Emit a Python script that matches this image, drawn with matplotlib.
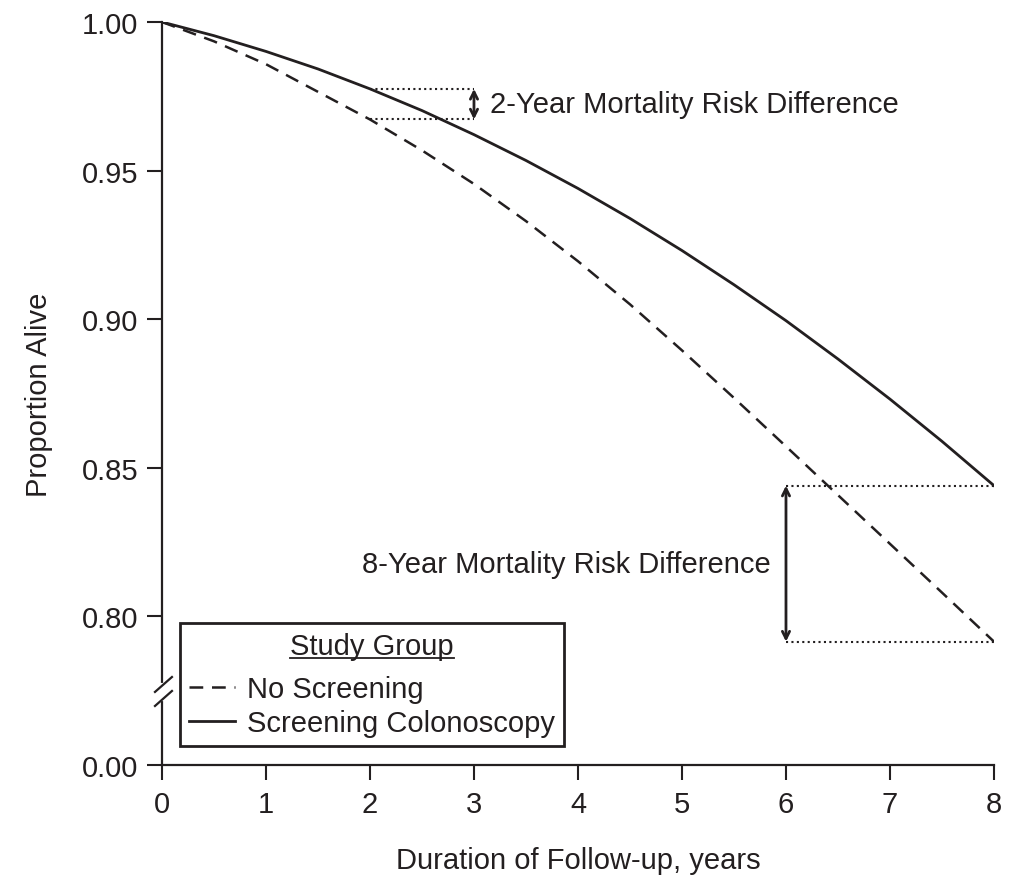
import matplotlib
matplotlib.use('Agg')
import matplotlib.pyplot as plt
from matplotlib.lines import Line2D

plt.rcParams['font.family'] = ['Liberation Sans', 'DejaVu Sans']

# survival curves
years = [0, 0.5, 1, 1.5, 2, 2.5, 3, 3.5, 4, 4.5, 5, 5.5, 6, 6.5, 7, 7.5, 8]
no_screening = [1.000, 0.9935, 0.9858, 0.9765, 0.9672, 0.9568, 0.9455, 0.9330, 0.9195,
                0.9050, 0.8895, 0.8735, 0.8572, 0.8408, 0.8244, 0.8080, 0.7915]
screening = [1.000, 0.9954, 0.9901, 0.9842, 0.9775, 0.9702, 0.9621, 0.9534, 0.9440,
             0.9339, 0.9231, 0.9116, 0.8995, 0.8866, 0.8731, 0.8589, 0.8440]

ytick_vals = [0.75, 0.80, 0.85, 0.90, 0.95, 1.00]
ytick_labels = ['0.00', '0.80', '0.85', '0.90', '0.95', '1.00']
xtick_vals = [0, 1, 2, 3, 4, 5, 6, 7, 8]

ink = '#231f20'
fs = 21

fig = plt.figure(figsize=(10.2, 8.78), dpi=100)
ax = fig.add_axes([0.1588, 0.1276, 0.8157, 0.8462])

ax.plot(years, no_screening, color=ink, lw=1.8, ls=(0, (5.5, 3.5)), label='No Screening')
ax.plot(years, screening, color=ink, lw=2.0, label='Screening Colonoscopy')

ax.set_xlim(0, 8)
ax.set_ylim(0.75, 1.0)
ax.set_xticks(xtick_vals)
ax.set_yticks(ytick_vals)
ax.set_yticklabels(ytick_labels)
ax.tick_params(axis='both', length=11, width=1.5, color=ink, labelcolor=ink,
               labelsize=fs, direction='out')
ax.tick_params(axis='x', pad=7)
ax.tick_params(axis='y', pad=6)
for side in ['top', 'right']:
    ax.spines[side].set_visible(False)
for side in ['left', 'bottom']:
    ax.spines[side].set_linewidth(1.6)
    ax.spines[side].set_color(ink)

ax.set_xlabel('Duration of Follow-up, years', fontsize=fs, color=ink, labelpad=20)
ax.set_ylabel('Proportion Alive', fontsize=fs, color=ink, labelpad=21)

# axis break on the y axis
ax.plot([0, 0], [0.0888, 0.1077], transform=ax.transAxes, color='white', lw=3,
        clip_on=False, zorder=5)
for y0, y1 in [(0.0983, 0.1184), (0.0794, 0.0996)]:
    ax.plot([-0.0084, 0.012], [y0, y1], transform=ax.transAxes, color=ink, lw=1.6,
            clip_on=False, zorder=6)

# 2-year risk difference
i2 = years.index(2)
s2, n2 = screening[i2], no_screening[i2]
dot = (0, (1, 1.6))
ax.plot([2, 3.0], [s2, s2], color=ink, lw=1.5, ls=dot)
ax.plot([2, 3.0], [n2, n2], color=ink, lw=1.5, ls=dot)
ax.annotate('', xy=(3.0, s2), xytext=(3.0, n2),
            arrowprops=dict(arrowstyle='<->', color=ink, lw=2, shrinkA=0, shrinkB=0,
                            mutation_scale=13))
ax.text(3.15, (s2 + n2) / 2, '2-Year Mortality Risk Difference', fontsize=fs,
        color=ink, va='center', ha='left')

# 8-year risk difference
s8, n8 = screening[-1], no_screening[-1]
ax.plot([6, 8], [s8, s8], color=ink, lw=1.5, ls=dot, clip_on=False)
ax.plot([6, 8], [n8, n8], color=ink, lw=1.5, ls=dot, clip_on=False)
ax.annotate('', xy=(6, s8), xytext=(6, n8),
            arrowprops=dict(arrowstyle='<->', color=ink, lw=2, shrinkA=0, shrinkB=0,
                            mutation_scale=13))
ax.text(5.85, (s8 + n8) / 2, '8-Year Mortality Risk Difference', fontsize=fs,
        color=ink, va='center', ha='right')

leg = ax.legend(loc='lower left', bbox_to_anchor=(0.0216, 0.0256), borderaxespad=0,
                title='Study Group', fontsize=fs, title_fontsize=fs, frameon=True,
                framealpha=1, fancybox=False, edgecolor=ink, handlelength=1.6,
                handletextpad=0.4, labelspacing=0.22, borderpad=0.3)
leg._legend_box.sep = 11
leg.get_frame().set_linewidth(2)
leg.get_title().set_color(ink)
for t in leg.get_texts():
    t.set_color(ink)

# underline the legend title
fig.canvas.draw()
bb = leg.get_title().get_window_extent().transformed(fig.transFigure.inverted())
fig.add_artist(Line2D([bb.x0, bb.x1], [bb.y0 + 0.002, bb.y0 + 0.002],
                      transform=fig.transFigure, color=ink, lw=1.3))

fig.savefig('out.png', dpi=100)
